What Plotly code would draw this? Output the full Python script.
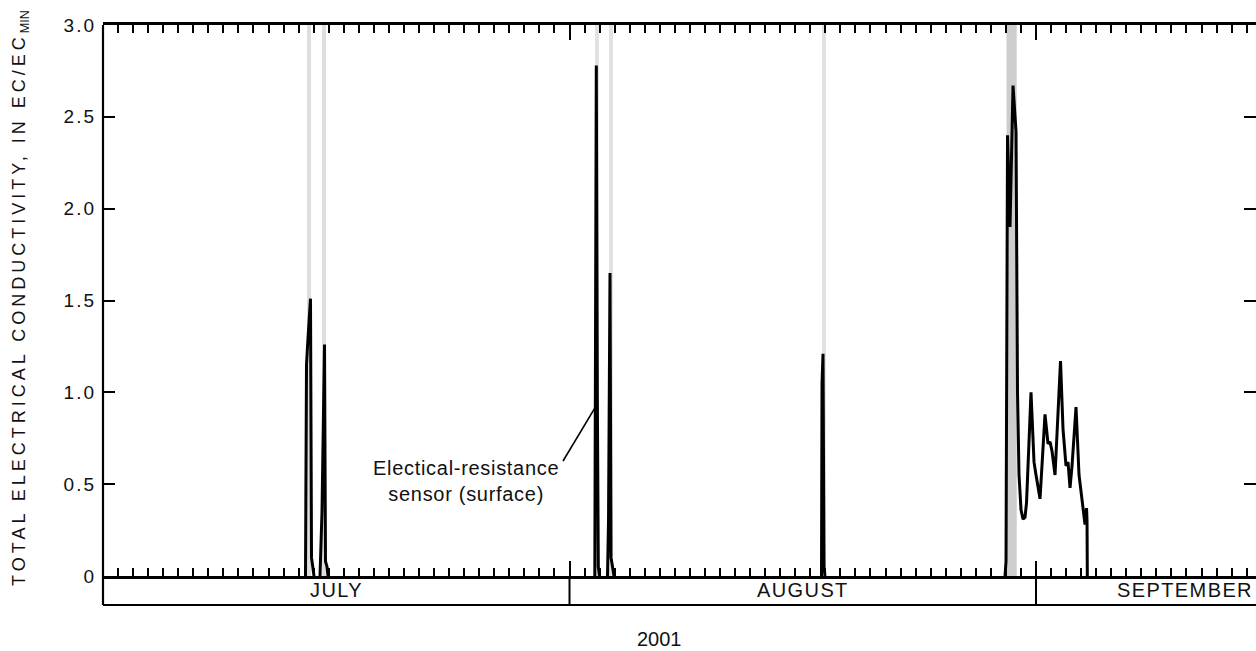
import plotly.graph_objects as go

# ---------------- data (time in days since 2001-07-01 00:00) ----------------
ev1_t = [13.457, 13.523, 13.590, 13.789, 13.856, 13.922, 14.022]
ev1_v = [0.0, 1.15, 1.25, 1.51, 0.10, 0.05, 0.0]

ev2_t = [14.420, 14.487, 14.553, 14.720, 14.786, 14.886, 14.952]
ev2_v = [0.0, 0.25, 0.35, 1.26, 0.08, 0.05, 0.0]

ev3_t = [32.682, 32.716, 32.782, 32.848, 32.915, 32.994]
ev3_v = [0.0, 1.60, 2.78, 1.00, 0.05, 0.0]

ev4_t = [33.526, 33.593, 33.692, 33.759, 33.859, 33.958]
ev4_v = [0.0, 0.30, 1.65, 0.10, 0.05, 0.0]

ev5_t = [47.747, 47.781, 47.847, 47.914, 47.980]
ev5_v = [0.0, 1.05, 1.21, 0.05, 0.0]

ev6_t = [59.941, 60.008, 60.108, 60.274, 60.473, 60.673, 60.772, 60.872,
         61.005, 61.138, 61.271, 61.371, 61.669, 61.869, 62.001, 62.267,
         62.599, 62.799, 62.932, 63.065, 63.264, 63.630, 63.796, 63.995,
         64.128, 64.261, 64.394, 64.660, 64.859, 65.059, 65.258, 65.358,
         65.391, 65.411]
ev6_v = [0.0, 0.08, 2.40, 1.90, 2.67, 2.42, 1.00, 0.55,
         0.36, 0.31, 0.32, 0.40, 1.00, 0.62, 0.55, 0.42,
         0.88, 0.72, 0.73, 0.68, 0.55, 1.17, 0.80, 0.60,
         0.62, 0.48, 0.60, 0.92, 0.55, 0.42, 0.28, 0.37,
         0.30, 0.0]

events_t = [ev1_t, ev2_t, ev3_t, ev4_t, ev5_t, ev6_t]
events_v = [ev1_v, ev2_v, ev3_v, ev4_v, ev5_v, ev6_v]

# shaded periods (days)
band_start = [13.557, 14.554, 32.695, 33.626, 47.781, 60.040]
band_end = [13.823, 14.820, 32.961, 33.892, 48.046, 60.720]
band_colors = ["#dedede", "#dedede", "#e2e2e2", "#e2e2e2", "#e2e2e2", "#cdcdcd"]

month_names = ["JULY", "AUGUST", "SEPTEMBER"]
month_start_days = [0, 31, 62]
month_label_days = [15.5, 46.5, 71.9]

y_tick_vals = [0, 0.5, 1.0, 1.5, 2.0, 2.5, 3.0]
y_tick_text = ["0", "0.5", "1.0", "1.5", "2.0", "2.5", "3.0"]

year_label = "2001"
X_END = 76.62

FONT = "Liberation Sans, Arial, Helvetica, sans-serif"
INK = "#111111"

fig = go.Figure()

for s, e, c in zip(band_start, band_end, band_colors):
    fig.add_shape(type="rect", xref="x", yref="paper", x0=s, x1=e, y0=0, y1=1,
                  fillcolor=c, line_width=0, layer="below")

for t, v in zip(events_t, events_v):
    fig.add_trace(go.Scatter(x=t, y=v, mode="lines",
                             line=dict(color="#000000", width=3),
                             showlegend=False, hoverinfo="skip"))

BOX_Y = -0.0526
# left axis line (extends into month box)
fig.add_shape(type="line", xref="paper", yref="paper", x0=0, x1=0, y0=BOX_Y, y1=1,
              line=dict(color="black", width=2.2), layer="above")
# month box bottom
fig.add_shape(type="line", xref="paper", yref="paper", x0=0, x1=1, y0=BOX_Y, y1=BOX_Y,
              line=dict(color="black", width=2.2), layer="above")
for d in month_start_days[1:]:
    fig.add_shape(type="line", xref="x", yref="paper", x0=d, x1=d, y0=BOX_Y, y1=0,
                  line=dict(color="black", width=2), layer="above")

for name, d in zip(month_names, month_label_days):
    fig.add_annotation(x=d, xref="x", y=-0.0254, yref="paper", showarrow=False,
                       text=f'<span style="letter-spacing:1.4px">{name}</span>',
                       font=dict(family=FONT, size=20, color=INK),
                       xanchor="center", yanchor="middle")

fig.add_annotation(x=0.483, xref="paper", y=-0.1143, yref="paper", showarrow=False,
                   text=year_label, font=dict(family=FONT, size=20, color=INK),
                   xanchor="center", yanchor="middle")

fig.add_annotation(x=-0.071, xref="paper", y=0.505, yref="paper", showarrow=False,
                   textangle=-90,
                   text='<span style="letter-spacing:4px">TOTAL ELECTRICAL CONDUCTIVITY, IN EC/EC</span><sub>MIN</sub>',
                   font=dict(family=FONT, size=18, color=INK),
                   xanchor="center", yanchor="middle")

fig.add_annotation(x=0.3148, xref="paper", y=0.1724, yref="paper", showarrow=False,
                   text=('<span style="letter-spacing:0.7px">Electical-resistance</span><br>'
                         '<span style="letter-spacing:0.7px">sensor (surface)</span>'),
                   font=dict(family=FONT, size=20, color=INK), align="center",
                   xanchor="center", yanchor="middle")
fig.add_shape(type="line", xref="x", yref="y", x0=30.57, y0=0.626, x1=32.80, y1=0.93,
              line=dict(color="black", width=1.6), layer="above")

fig.update_layout(
    width=1256, height=651,
    margin=dict(l=103, r=0, t=25, b=75),
    paper_bgcolor="white", plot_bgcolor="white",
    xaxis=dict(range=[0, X_END], showline=True, linecolor="black", linewidth=2.6,
               mirror="ticks", ticks="inside", tickvals=month_start_days, ticklen=15,
               tickwidth=2, tickcolor="black", showticklabels=False,
               showgrid=False, zeroline=False,
               minor=dict(ticks="inside", ticklen=8, tickwidth=2, tickcolor="black",
                          dtick=1, tick0=0, showgrid=False)),
    yaxis=dict(range=[0, 3], showline=False, mirror="ticks", ticks="inside",
               ticklen=12, tickwidth=2, tickcolor="black",
               tickvals=y_tick_vals,
               ticktext=[f'<span style="letter-spacing:2px">{t}</span>' for t in y_tick_text],
               tickfont=dict(family=FONT, size=19, color=INK),
               ticklabelstandoff=6,
               showgrid=False, zeroline=False),
)

fig.write_html("out.html")
